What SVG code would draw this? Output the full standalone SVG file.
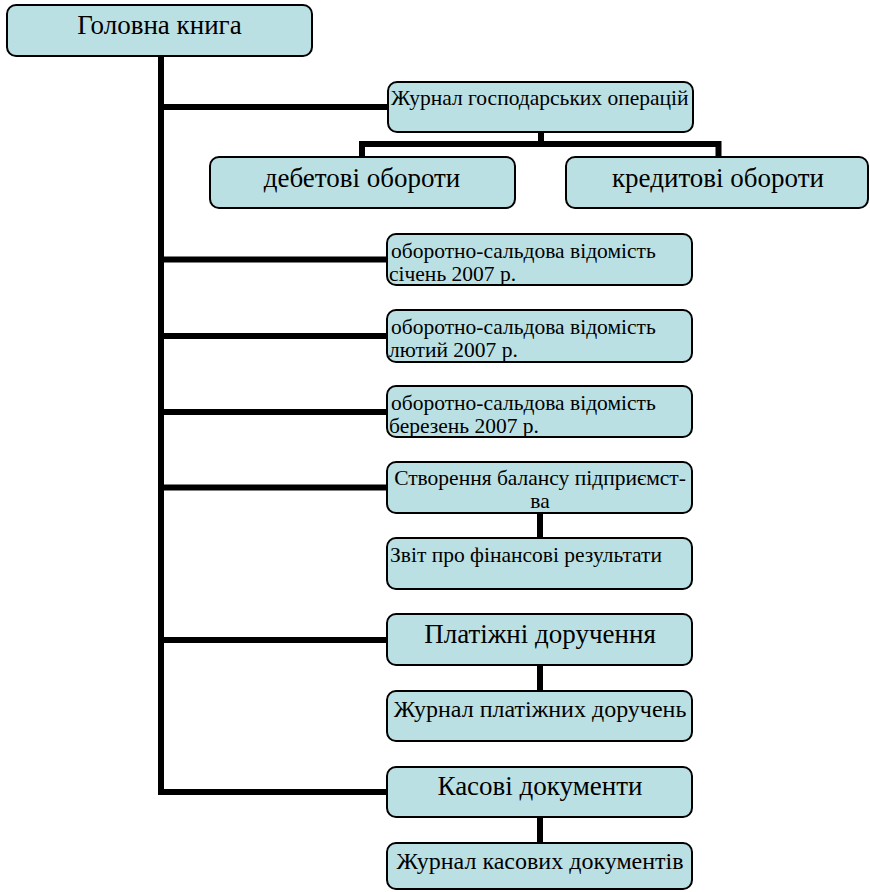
<svg xmlns="http://www.w3.org/2000/svg" width="870" height="892" viewBox="0 0 870 892">
<style>
.box{fill:#BBE0E3;stroke:#000;stroke-width:2}
.con{fill:none;stroke:#000;stroke-width:6;stroke-linejoin:miter}
text{font-family:"Liberation Serif","Times New Roman",serif;fill:#000}
.big{font-size:27px;text-anchor:middle}
.mid{font-size:24px;text-anchor:middle}
.sm{font-size:21.5px}
.smc{font-size:21.5px;text-anchor:middle}
</style>
<rect width="870" height="892" fill="#fff"/>
<g id="connectors" class="con">
<path d="M161,56 V792 H388"/>
<path d="M161,107 H389"/>
<path d="M161,259.5 H388"/>
<path d="M161,336 H388"/>
<path d="M161,412 H388"/>
<path d="M161,487.5 H388"/>
<path d="M161,640 H388"/>
<path d="M541,132 V144"/>
<path d="M362,157 V144 H718.5 V157"/>
<path d="M540,513 V538"/>
<path d="M540,665 V691"/>
<path d="M540,817 V843"/>
</g>
<g id="n-golovna"><rect class="box" x="7" y="5" width="305" height="51" rx="9"/><text class="big" x="159.5" y="34">Головна книга</text></g>
<g id="n-zhurnal-gosp"><rect class="box" x="388" y="82" width="305" height="50" rx="9"/><text class="sm" x="391" y="105">Журнал господарських операцій</text></g>
<g id="n-debet"><rect class="box" x="210" y="157" width="305" height="51" rx="9"/><text class="big" x="362" y="187">дебетові обороти</text></g>
<g id="n-kredyt"><rect class="box" x="566" y="157" width="302" height="51" rx="9"/><text class="big" x="718" y="187">кредитові обороти</text></g>
<g id="n-osv-1"><rect class="box" x="387" y="234" width="305" height="51" rx="9"/><text class="sm" x="391" y="257.5">оборотно-сальдова відомість</text><text class="sm" x="389" y="281">січень 2007 р.</text></g>
<g id="n-osv-2"><rect class="box" x="387" y="310" width="305" height="52" rx="9"/><text class="sm" x="391" y="333.5">оборотно-сальдова відомість</text><text class="sm" x="389" y="357">лютий 2007 р.</text></g>
<g id="n-osv-3"><rect class="box" x="387" y="386" width="305" height="51" rx="9"/><text class="sm" x="391" y="409.5">оборотно-сальдова відомість</text><text class="sm" x="389" y="433">березень 2007 р.</text></g>
<g id="n-balans"><rect class="box" x="387" y="462" width="305" height="51" rx="9"/><text class="smc" x="540" y="484.5">Створення балансу підприємст-</text><text class="smc" x="540" y="508">ва</text></g>
<g id="n-zvit"><rect class="box" x="387" y="538" width="305" height="51" rx="9"/><text class="sm" x="390" y="561.5">Звіт про фінансові результати</text></g>
<g id="n-platizhni"><rect class="box" x="387" y="614" width="305" height="51" rx="9"/><text class="big" x="540" y="642.5">Платіжні доручення</text></g>
<g id="n-zhurnal-plat"><rect class="box" x="387" y="691" width="305" height="50" rx="9"/><text class="mid" x="540" y="717">Журнал платіжних доручень</text></g>
<g id="n-kasovi"><rect class="box" x="387" y="767" width="305" height="50" rx="9"/><text class="big" x="540" y="795">Касові документи</text></g>
<g id="n-zhurnal-kas"><rect class="box" x="387" y="843" width="305" height="46" rx="9"/><text class="mid" x="540" y="869">Журнал касових документів</text></g>
</svg>
